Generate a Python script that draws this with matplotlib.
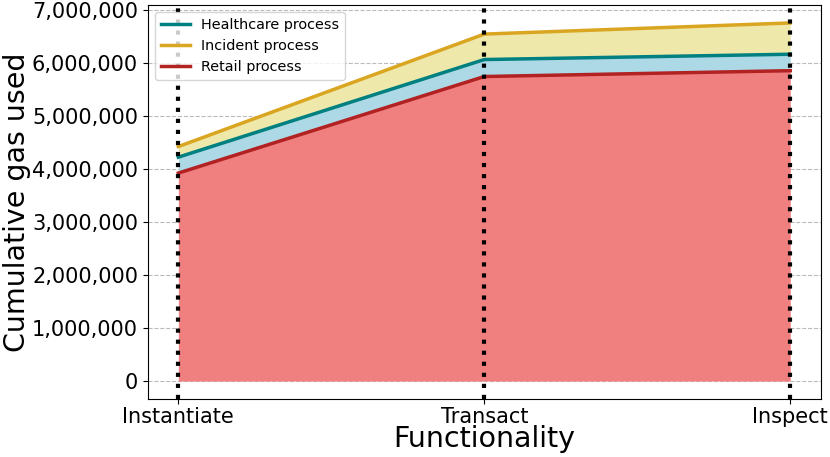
import matplotlib
matplotlib.use("Agg")
import matplotlib.pyplot as plt
from matplotlib.ticker import FuncFormatter

functionality = ["Instantiate", "Transact", "Inspect"]
retail = [3920000, 5740000, 5850000]
healthcare = [4220000, 6060000, 6160000]
incident = [4420000, 6540000, 6750000]

fig = plt.figure(figsize=(8.3, 4.57), dpi=100)
ax = fig.add_axes([0.178, 0.127, 0.811, 0.862])

x = list(range(len(functionality)))

ax.fill_between(x, 0, retail, color="lightcoral", linewidth=0)
ax.fill_between(x, retail, healthcare, color="lightblue", linewidth=0)
ax.fill_between(x, healthcare, incident, color="palegoldenrod", linewidth=0)

ax.plot(x, healthcare, color="teal", linewidth=2.5, label="Healthcare process")
ax.plot(x, incident, color="goldenrod", linewidth=2.5, label="Incident process")
ax.plot(x, retail, color="firebrick", linewidth=2.5, label="Retail process")

for xi in x:
    ax.axvline(xi, color="black", linestyle=":", linewidth=3, zorder=5)

ax.grid(axis="y", linestyle="--", color="#bbbbbb", linewidth=0.8)
ax.set_axisbelow(True)

ax.set_xticks(x)
ax.set_xticklabels(functionality)
ax.yaxis.set_major_formatter(FuncFormatter(lambda v, p: f"{int(v):,}"))
ax.tick_params(axis="both", labelsize=15)
ax.tick_params(axis="x", pad=2)
ax.set_xlabel("Functionality", fontsize=20.5, labelpad=-1)
ax.set_ylabel("Cumulative gas used", fontsize=20.5, labelpad=1)
ax.legend(loc="upper left", fontsize=10.4)

fig.savefig("out.png", dpi=100)
